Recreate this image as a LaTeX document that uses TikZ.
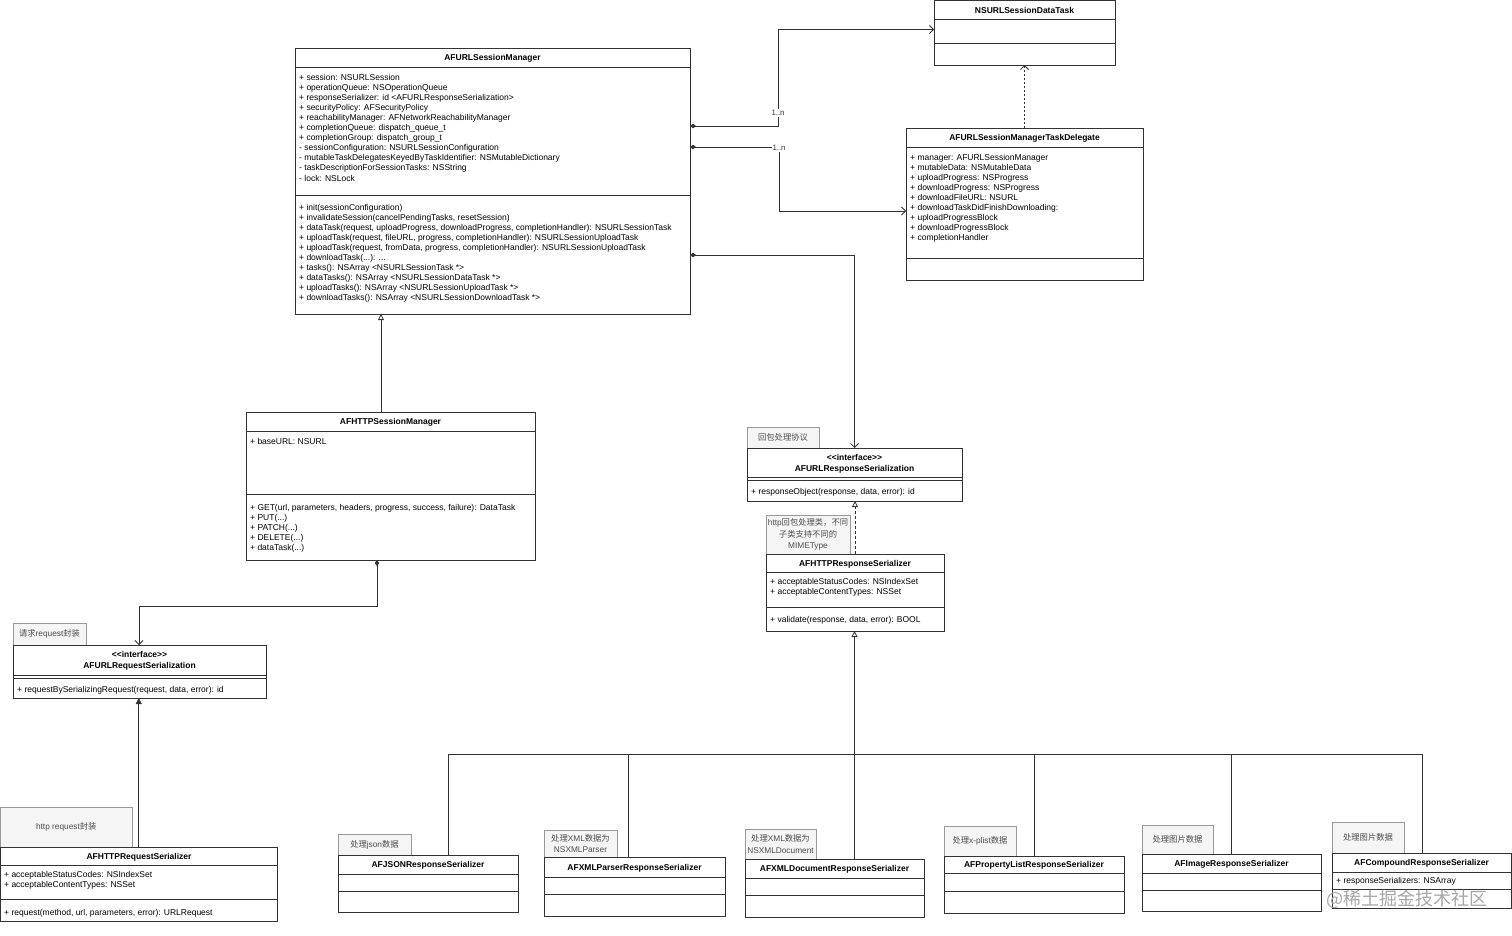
\documentclass[tikz,border=0pt]{standalone}
\usepackage{fontspec}
\setmainfont{Liberation Sans}
\newfontfamily\cjk{Noto Sans CJK SC}
\usetikzlibrary{arrows.meta}
\tikzset{
  x=1pt,y=-1pt,
  ln/.style={draw=black!80, line width=0.8pt},
  cls/.style={draw=black!80, line width=0.8pt, fill=white, anchor=north west, inner sep=0pt, outer sep=0pt},
  ttl/.style={font=\bfseries\fontsize{8.5}{10}\selectfont, inner sep=0pt, text height=6.1pt, text depth=0pt, anchor=center},
  txt/.style={font=\fontsize{8.5}{10}\selectfont, inner sep=0pt, anchor=base west},
  notebox/.style={draw=black!40, fill=black!4, line width=0.8pt, anchor=north west, inner sep=0pt, outer sep=0pt, align=center, text=black!70, font=\fontsize{8.3}{11.5}\selectfont},
  conn/.style={draw=black!80, line width=0.8pt},
  lbl/.style={font=\fontsize{7.8}{9}\selectfont, fill=white, inner sep=1pt, text=black!80},
  dmdbarb/.style={arrows={Diamond[length=6pt,width=4.5pt]-Straight Barb[length=4pt,width=8pt]}},
  barbarr/.style={-{Straight Barb[length=4pt,width=8pt]}},
  genarr/.style={-{Triangle[open,fill=white,length=6pt,width=6pt]}},
  fillarr/.style={-{Triangle[length=6pt,width=6pt]}},
}
\newcommand\tdots{.{}.{}.}
\newcommand\ifc{<\kern0pt<interface>\kern0pt>}
\newcommand\zh[1]{{\cjk #1}}
\newcommand\ubox[5]{\node[cls, minimum width={(#4-#2)*1pt}, minimum height={(#5-#3)*1pt}] (#1) at (#2,#3) {};}
\newcommand\unote[6]{\node[notebox, minimum width={(#4-#2)*1pt}, minimum height={(#5-#3)*1pt}] (#1) at (#2,#3) {#6};}
\newcommand\txtlines[4]{\foreach \mytext [count=\ii] in {#4}{\node[txt] (#1-\ii) at (#2,{#3+10.1*(\ii-1)}) {\mytext};}}
\begin{document}
\begin{tikzpicture}
\fill[white] (0,0) rectangle (1512,935);
\useasboundingbox (0,0) rectangle (1512,935);

% ---------- AFURLSessionManager
\ubox{sm}{295}{48}{690}{314}
\draw[ln] (295,67) -- (690,67);
\draw[ln] (295,195) -- (690,195);
\node[ttl] (sm-t) at (492.5,57.5) {AFURLSessionManager};
\txtlines{sma}{299}{80}{{+ session: NSURLSession},{+ operationQueue: NSOperationQueue},{+ responseSerializer: id <AFURLResponseSerialization>},{+ securityPolicy: AFSecurityPolicy},{+ reachabilityManager: AFNetworkReachabilityManager},{+ completionQueue: dispatch\_queue\_t},{+ completionGroup: dispatch\_group\_t},{- sessionConfiguration: NSURLSessionConfiguration},{- mutableTaskDelegatesKeyedByTaskIdentifier: NSMutableDictionary},{- taskDescriptionForSessionTasks: NSString},{- lock: NSLock}}
\txtlines{smm}{299}{210}{{+ init(sessionConfiguration)},{+ invalidateSession(cancelPendingTasks, resetSession)},{+ dataTask(request, uploadProgress, downloadProgress, completionHandler): NSURLSessionTask},{+ uploadTask(request, fileURL, progress, completionHandler): NSURLSessionUploadTask},{+ uploadTask(request, fromData, progress, completionHandler): NSURLSessionUploadTask},{+ downloadTask(\tdots): \tdots},{+ tasks(): NSArray <NSURLSessionTask *>},{+ dataTasks(): NSArray <NSURLSessionDataTask *>},{+ uploadTasks(): NSArray <NSURLSessionUploadTask *>},{+ downloadTasks(): NSArray <NSURLSessionDownloadTask *>}}

% ---------- NSURLSessionDataTask
\ubox{dt}{934}{0.5}{1115}{65}
\draw[ln] (934,19) -- (1115,19);
\draw[ln] (934,43) -- (1115,43);
\node[ttl] (dt-t) at (1024.5,10) {NSURLSessionDataTask};

% ---------- AFURLSessionManagerTaskDelegate
\ubox{tdel}{906}{128}{1143}{280}
\draw[ln] (906,147) -- (1143,147);
\draw[ln] (906,258) -- (1143,258);
\node[ttl] (tdel-t) at (1024.5,137.5) {AFURLSessionManagerTaskDelegate};
\txtlines{tda}{910}{160}{{+ manager: AFURLSessionManager},{+ mutableData: NSMutableData},{+ uploadProgress: NSProgress},{+ downloadProgress: NSProgress},{+ downloadFileURL: NSURL},{+ downloadTaskDidFinishDownloading:},{+ uploadProgressBlock},{+ downloadProgressBlock},{+ completionHandler}}

% ---------- AFHTTPSessionManager
\ubox{hsm}{246}{412}{535}{560}
\draw[ln] (246,431) -- (535,431);
\draw[ln] (246,494) -- (535,494);
\node[ttl] (hsm-t) at (390.5,421.5) {AFHTTPSessionManager};
\txtlines{hsma}{250}{444}{{+ baseURL: NSURL}}
\txtlines{hsmm}{250}{510}{{+ GET(url, parameters, headers, progress, success, failure): DataTask},{+ PUT(\tdots)},{+ PATCH(\tdots)},{+ DELETE(\tdots)},{+ dataTask(\tdots)}}

% ---------- AFURLResponseSerialization
\unote{n1}{747}{427}{819}{448}{\zh{回包处理协议}}
\ubox{resp}{747}{448}{962}{501}
\draw[ln] (747,477) -- (962,477);
\draw[ln] (747,480) -- (962,480);
\node[ttl] (resp-t1) at (854.5,457) {\ifc};
\node[ttl] (resp-t2) at (854.5,468) {AFURLResponseSerialization};
\txtlines{respm}{751}{494}{{+ responseObject(response, data, error): id}}

% ---------- AFHTTPResponseSerializer
\unote{n2}{766}{515}{850}{554}{http\zh{回包处理类，不同}\\\zh{子类支持不同的}\\MIMEType}
\ubox{hresp}{766}{554}{944}{631}
\draw[ln] (766,572) -- (944,572);
\draw[ln] (766,607) -- (944,607);
\node[ttl] (hresp-t) at (855,563) {AFHTTPResponseSerializer};
\txtlines{hrespa}{770}{584}{{+ acceptableStatusCodes: NSIndexSet},{+ acceptableContentTypes: NSSet}}
\txtlines{hrespm}{770}{622}{{+ validate(response, data, error): BOOL}}

% ---------- AFURLRequestSerialization
\unote{n3}{13}{623}{86}{645}{\zh{请求}request\zh{封装}}
\ubox{req}{13}{645}{266}{698}
\draw[ln] (13,675) -- (266,675);
\draw[ln] (13,678) -- (266,678);
\node[ttl] (req-t1) at (139.5,654.5) {\ifc};
\node[ttl] (req-t2) at (139.5,665.5) {AFURLRequestSerialization};
\txtlines{reqm}{17}{692}{{+ requestBySerializingRequest(request, data, error): id}}

% ---------- AFHTTPRequestSerializer
\unote{n4}{0.5}{807}{132}{847}{http request\zh{封装}}
\ubox{hreq}{0.5}{847}{277}{921}
\draw[ln] (0.5,865) -- (277,865);
\draw[ln] (0.5,899) -- (277,899);
\node[ttl] (hreq-t) at (139,856) {AFHTTPRequestSerializer};
\txtlines{hreqa}{4}{877.5}{{+ acceptableStatusCodes: NSIndexSet},{+ acceptableContentTypes: NSSet}}
\txtlines{hreqm}{4}{915}{{+ request(method, url, parameters, error): URLRequest}}

% ---------- bottom row
\unote{n5}{338}{834}{411}{855}{\zh{处理}json\zh{数据}}
\ubox{json}{338}{855}{518}{912}
\draw[ln] (338,874) -- (518,874);
\draw[ln] (338,891) -- (518,891);
\node[ttl] (json-t) at (428,864.5) {AFJSONResponseSerializer};

\unote{n6}{544}{830}{617}{857}{\zh{处理}XML\zh{数据为}\\NSXMLParser}
\ubox{xmlp}{544}{857}{725}{916}
\draw[ln] (544,877) -- (725,877);
\draw[ln] (544,894) -- (725,894);
\node[ttl] (xmlp-t) at (634.5,867) {AFXMLParserResponseSerializer};

\unote{n7}{745}{829}{816}{859}{\zh{处理}XML\zh{数据为}\\NSXMLDocument}
\ubox{xmld}{745}{859}{924}{917}
\draw[ln] (745,878) -- (924,878);
\draw[ln] (745,895) -- (924,895);
\node[ttl] (xmld-t) at (834.5,868.5) {AFXMLDocumentResponseSerializer};

\unote{n8}{944}{826}{1016}{856}{\zh{处理}x-plist\zh{数据}}
\ubox{plist}{944}{856}{1124}{913}
\draw[ln] (944,873) -- (1124,873);
\draw[ln] (944,891) -- (1124,891);
\node[ttl] (plist-t) at (1034,864.5) {AFPropertyListResponseSerializer};

\unote{n9}{1142}{825}{1213}{854}{\zh{处理图片数据}}
\ubox{img}{1142}{854}{1321}{911}
\draw[ln] (1142,873) -- (1321,873);
\draw[ln] (1142,890) -- (1321,890);
\node[ttl] (img-t) at (1231.5,863.5) {AFImageResponseSerializer};

\unote{n10}{1332}{822}{1404}{853}{\zh{处理图片数据}}
\ubox{comp}{1332}{853}{1511}{908}
\draw[ln] (1332,872) -- (1511,872);
\draw[ln] (1332,889) -- (1511,889);
\node[ttl] (comp-t) at (1421.5,862.5) {AFCompoundResponseSerializer};
\txtlines{compa}{1336}{883}{{+ responseSerializers: NSArray}}

% ---------- connectors
\draw[conn, dmdbarb] ([yshift=-78pt]sm.north east) -- ++(88,0) coordinate (c1) |- ([yshift=-29pt]dt.north west);
\node[lbl] (l1) at ([yshift=13pt]c1) {1..n};
\draw[conn, dmdbarb] ([yshift=-99pt]sm.north east) -- ++(89,0) coordinate (c2) |- ([yshift=-83pt]tdel.north west);
\node[lbl] (l2) at ([yshift=-1pt]c2) {1..n};
\draw[conn, dmdbarb] ([yshift=-207pt]sm.north east) -| (resp.north);
\draw[conn, barbarr, dash pattern=on 2pt off 2pt] (tdel.north) -- (dt.south);

\coordinate (h1) at ([xshift=-9.5pt]hsm.north);
\draw[conn, genarr] (h1) -- (h1 |- sm.south);
\draw[conn, dmdbarb] ([xshift=-13.5pt]hsm.south) -- ++(0,46) -| ([xshift=-0.5pt]req.north);
\draw[conn, fillarr] (hreq.north) -- (hreq.north |- req.south);
\draw[conn, genarr, dash pattern=on 3pt off 2pt] (hresp.north) -- (hresp.north |- resp.south);

\coordinate (bus) at (854.5,754);
\draw[conn] ([xshift=20pt]json.north) |- (bus) -| ([xshift=0.5pt]comp.north);
\coordinate (b2) at ([xshift=-6.5pt]xmlp.north);
\draw[conn] (b2) -- (b2 |- bus);
\coordinate (b3) at ([xshift=19.5pt]xmld.north);
\draw[conn] (b3) -- (b3 |- bus);
\coordinate (b4) at (plist.north);
\draw[conn] (b4) -- (b4 |- bus);
\coordinate (b5) at ([xshift=-0.5pt]img.north);
\draw[conn] (b5) -- (b5 |- bus);
\draw[conn, genarr] (bus) -- (bus |- hresp.south);

% ---------- watermark
\node[font=\cjk\fontsize{18}{20}\selectfont, text=black!35, inner sep=0pt] (wm) at (1407,899) {@稀土掘金技术社区};
\end{tikzpicture}
\end{document}
